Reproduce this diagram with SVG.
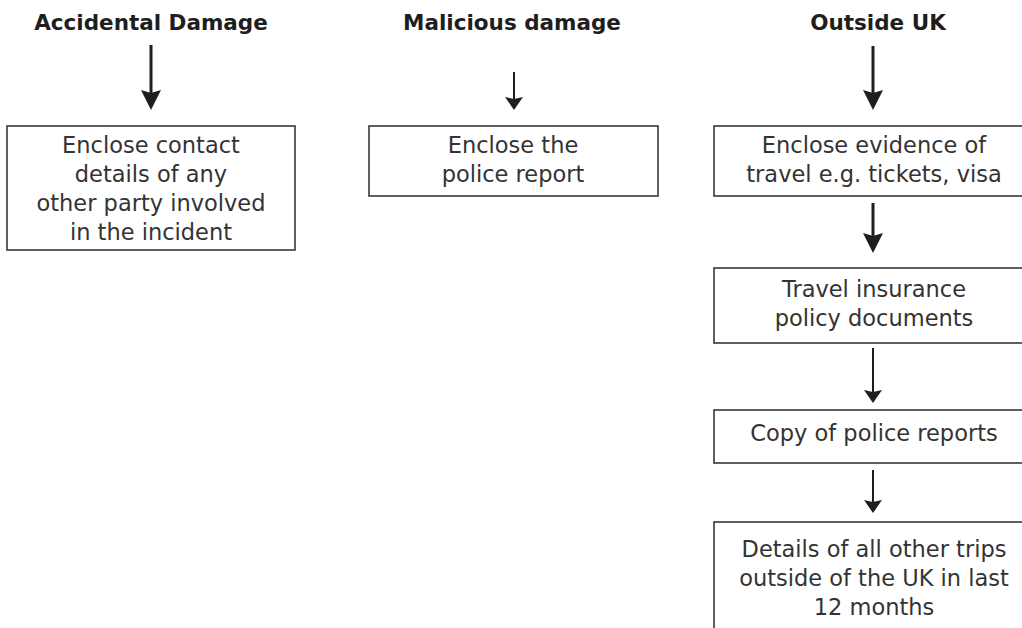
<svg xmlns="http://www.w3.org/2000/svg" width="1022" height="628" viewBox="0 0 1022 628">
<style>
.bg{fill:#ffffff}
.box{fill:#ffffff;stroke:#2b2b2b;stroke-width:1.5}
.title{font-family:"DejaVu Sans","Liberation Sans",sans-serif;font-weight:bold;font-size:21.5px;fill:#1e1e1e;text-anchor:middle}
.lbl{font-family:"DejaVu Sans","Liberation Sans",sans-serif;font-size:22.5px;fill:#333333;text-anchor:middle}
.thick{stroke:#1e1e1e;stroke-width:3;fill:none;marker-end:url(#headBig)}
.thin{stroke:#1e1e1e;stroke-width:2;fill:none;marker-end:url(#headSmall)}
</style>
<defs>
<marker id="headBig" markerUnits="userSpaceOnUse" viewBox="0 0 20 20" markerWidth="20" markerHeight="20" refX="8" refY="10" orient="auto">
<path d="M0,0 L20,10 L0,20 L3,10 Z" fill="#1e1e1e"/>
</marker>
<marker id="headSmall" markerUnits="userSpaceOnUse" viewBox="0 0 13 18" markerWidth="13" markerHeight="18" refX="5" refY="9" orient="auto">
<path d="M0,0 L13,9 L0,18 L2,9 Z" fill="#1e1e1e"/>
</marker>
</defs>
<rect class="bg" x="0" y="0" width="1022" height="628"/>

<g id="title-accidental"><text class="title" x="151" y="30">Accidental Damage</text></g>
<g id="title-malicious"><text class="title" x="512" y="30">Malicious damage</text></g>
<g id="title-outside"><text class="title" x="878" y="30">Outside UK</text></g>

<g id="node-contact">
<rect class="box" x="7" y="126" width="288" height="124"/>
<text class="lbl" x="151" y="153">Enclose contact</text>
<text class="lbl" x="151" y="182">details of any</text>
<text class="lbl" x="151" y="211">other party involved</text>
<text class="lbl" x="151" y="240">in the incident</text>
</g>

<g id="node-police">
<rect class="box" x="369" y="126" width="289" height="70"/>
<text class="lbl" x="513" y="153">Enclose the</text>
<text class="lbl" x="513" y="182">police report</text>
</g>

<g id="node-evidence">
<rect class="box" x="714" y="126" width="320" height="70"/>
<text class="lbl" x="874" y="153">Enclose evidence of</text>
<text class="lbl" x="874" y="182">travel e.g. tickets, visa</text>
</g>

<g id="node-insurance">
<rect class="box" x="714" y="268" width="320" height="75"/>
<text class="lbl" x="874" y="297">Travel insurance</text>
<text class="lbl" x="874" y="326">policy documents</text>
</g>

<g id="node-reports">
<rect class="box" x="714" y="410" width="320" height="53"/>
<text class="lbl" x="874" y="441">Copy of police reports</text>
</g>

<g id="node-trips">
<rect class="box" x="714" y="522" width="320" height="130"/>
<text class="lbl" x="874" y="557">Details of all other trips</text>
<text class="lbl" x="874" y="586">outside of the UK in last</text>
<text class="lbl" x="874" y="615">12 months</text>
</g>

<g id="connectors">
<line class="thick" x1="151" y1="45" x2="151" y2="98"/>
<line class="thin" x1="514" y1="72" x2="514" y2="102"/>
<line class="thick" x1="873" y1="46" x2="873" y2="98"/>
<line class="thick" x1="873" y1="203" x2="873" y2="241"/>
<line class="thin" x1="873" y1="348" x2="873" y2="395"/>
<line class="thin" x1="873" y1="470" x2="873" y2="505"/>
</g>
</svg>
